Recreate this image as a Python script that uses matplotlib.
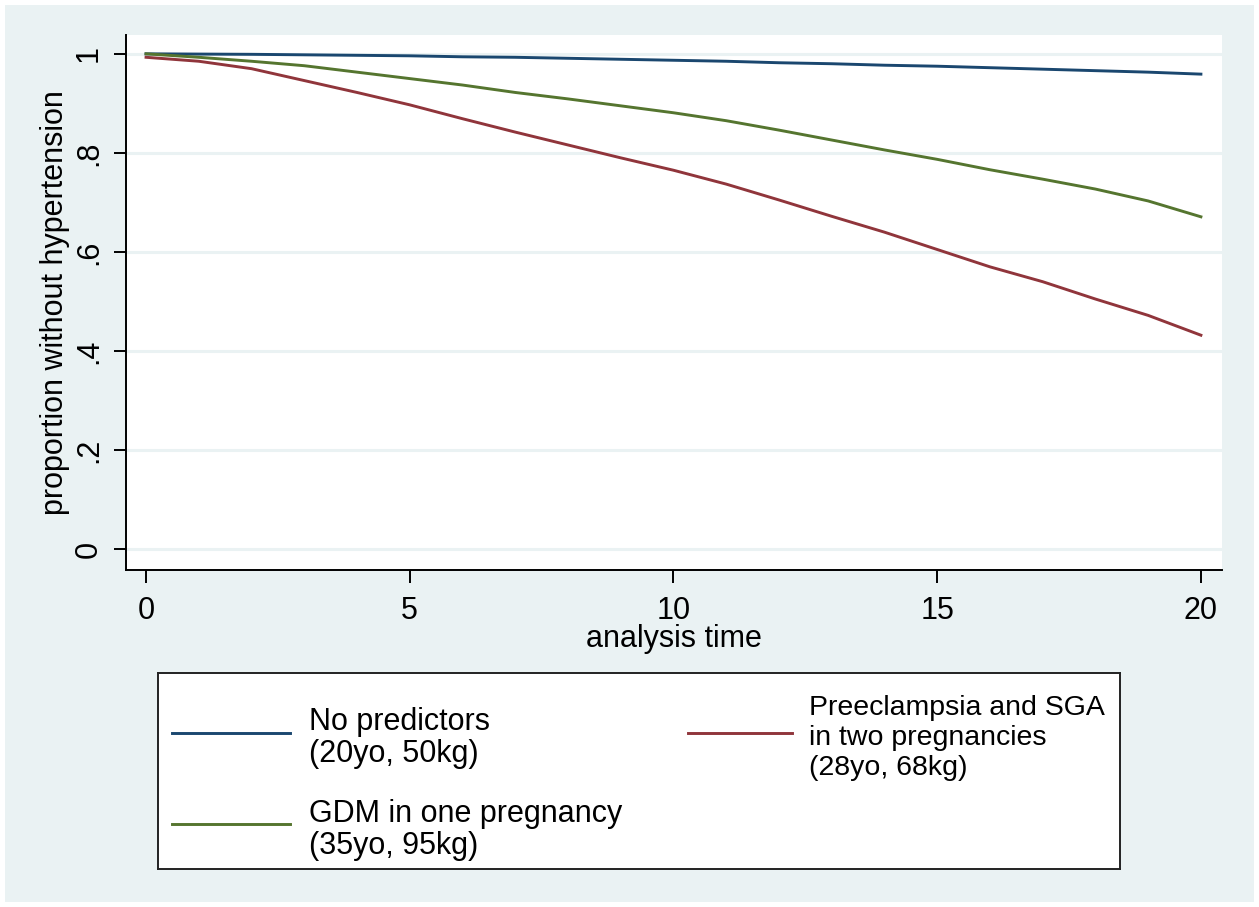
# survival curves from stcurve-style plot, recreated in matplotlib
import matplotlib.pyplot as plt
from matplotlib.patches import Rectangle
from matplotlib.lines import Line2D

# analysis time (years) and proportion without hypertension
years = [0, 1, 2, 3, 4, 5, 6, 7, 8, 9, 10, 11, 12, 13, 14, 15, 16, 17, 18, 19, 20]

no_predictors = [1.0, 0.9995, 0.999, 0.998, 0.997, 0.996, 0.994, 0.993, 0.991, 0.989, 0.987,
                 0.985, 0.982, 0.980, 0.977, 0.975, 0.972, 0.969, 0.966, 0.963, 0.959]
gdm_one = [1.0, 0.993, 0.985, 0.976, 0.963, 0.950, 0.937, 0.922, 0.909, 0.895, 0.881,
           0.865, 0.846, 0.826, 0.806, 0.787, 0.766, 0.747, 0.727, 0.703, 0.671]
pe_sga_two = [0.993, 0.985, 0.970, 0.946, 0.922, 0.897, 0.869, 0.842, 0.816, 0.790, 0.765,
              0.737, 0.705, 0.672, 0.640, 0.605, 0.570, 0.540, 0.505, 0.472, 0.432]

labels = ['No predictors\n(20yo, 50kg)',
          'GDM in one pregnancy\n(35yo, 95kg)',
          'Preeclampsia and SGA\nin two pregnancies\n(28yo, 68kg)']
colors = ['#1a476f', '#55752f', '#90353b']

yticks = [0, 0.2, 0.4, 0.6, 0.8, 1]
ytick_labels = ['0', '.2', '.4', '.6', '.8', '1']
xticks = [0, 5, 10, 15, 20]

BG = '#eaf2f3'
plt.rcParams['font.family'] = ['Liberation Sans', 'DejaVu Sans']

fig = plt.figure(figsize=(12.59, 9.07), dpi=100, facecolor='white')
# light outer background with thin white margin
fig.patches.append(Rectangle((5 / 1259, 5 / 907), 1249 / 1259, 897 / 907,
                             transform=fig.transFigure, facecolor=BG, edgecolor='none', zorder=-10))

ax = fig.add_axes([126 / 1259, 1 - 570 / 907, (1222 - 126) / 1259, (570 - 35) / 907])
ax.set_facecolor('white')

series = [no_predictors, gdm_one, pe_sga_two]
for s, c in zip(series, colors):
    ax.plot(years, s, color=c, lw=2.1, zorder=3)

ax.set_xlim(-0.38, 20.4)
ax.set_ylim(-0.042, 1.038)
ax.set_yticks(yticks)
ax.set_yticklabels(ytick_labels, rotation=90, va='center')
ax.set_xticks(xticks)
ax.grid(axis='y', color=BG, lw=2.2, zorder=1)
ax.set_axisbelow(True)

for side in ['top', 'right']:
    ax.spines[side].set_visible(False)
for side in ['left', 'bottom']:
    ax.spines[side].set_linewidth(1.4)
    ax.spines[side].set_color('black')
ax.tick_params(axis='both', labelsize=22, length=9, width=1.4)
ax.tick_params(axis='x', pad=10)
ax.tick_params(axis='y', pad=7)

ax.set_xlabel('analysis time', fontsize=22, labelpad=-2)
ax.set_ylabel('proportion without hypertension', fontsize=22, labelpad=3)

# legend box drawn in its own axes, Stata style
lax = fig.add_axes([158 / 1259, 1 - 869 / 907, (1120 - 158) / 1259, (869 - 673) / 907])
lax.set_xlim(0, 1)
lax.set_ylim(0, 1)
lax.set_xticks([])
lax.set_yticks([])
lax.set_facecolor('white')
for sp in lax.spines.values():
    sp.set_linewidth(1.4)
    sp.set_color('#222222')

handle_x = [(0.0146, 0.1372), (0.0146, 0.1372), (0.551, 0.659)]
handle_y = [0.694, 0.230, 0.694]
text_x = [0.157, 0.157, 0.677]
text_y = [0.668, 0.199, 0.668]
for i in range(3):
    lax.add_line(Line2D(handle_x[i], [handle_y[i], handle_y[i]], color=colors[i], lw=2.1))
    lax.text(text_x[i], text_y[i], labels[i], fontsize=22 if i < 2 else 20.5,
             va='center', ha='left', linespacing=1.12 if i < 2 else 1.2)

fig.savefig('out.png', dpi=100, facecolor=fig.get_facecolor())
